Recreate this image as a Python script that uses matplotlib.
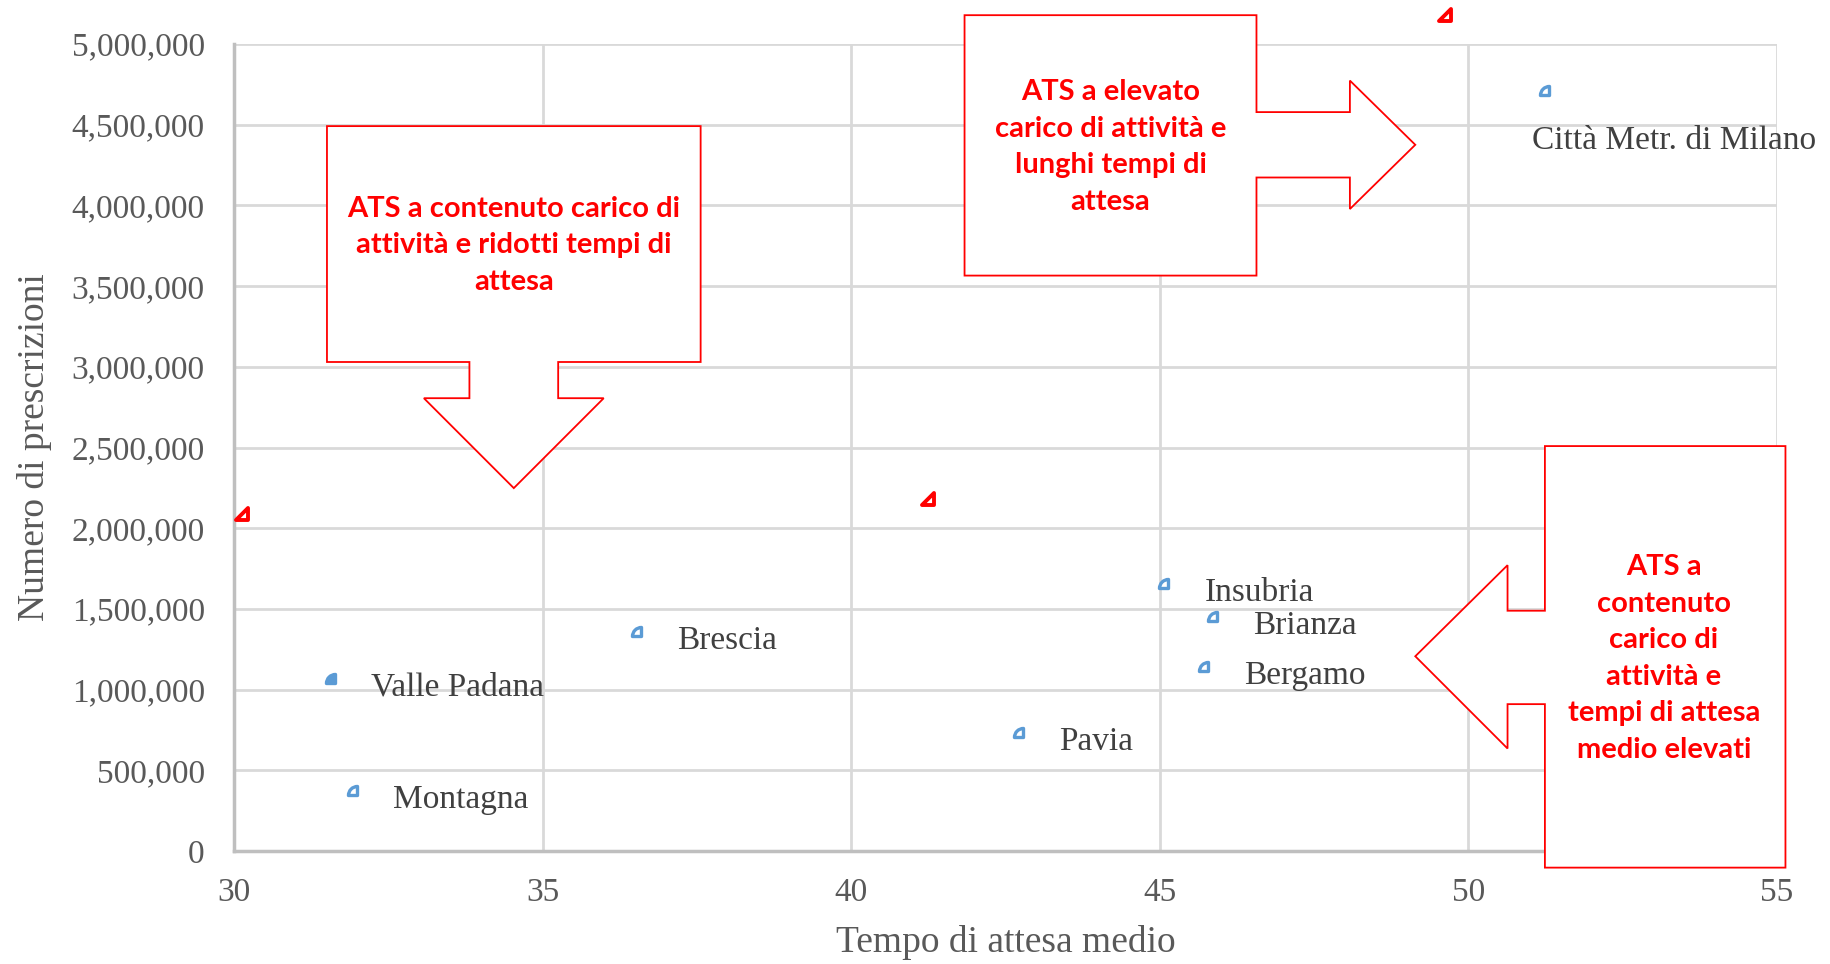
import matplotlib
matplotlib.use("Agg")
import matplotlib.pyplot as plt
from matplotlib.path import Path
from matplotlib.patches import Polygon
from matplotlib.ticker import FuncFormatter, MultipleLocator

# ---- data ----
ats_names = ["Valle Padana", "Montagna", "Brescia", "Pavia", "Insubria",
             "Brianza", "Bergamo", "Città Metr. di Milano"]
tempo_attesa = [31.63, 31.99, 36.59, 42.79, 45.14, 45.92, 45.78, 51.31]
prescrizioni = [1042000, 347000, 1331000, 709000, 1628000, 1425000, 1114000, 4682000]

ref_x = [30.13, 41.24, 49.62]
ref_y = [2091000, 2178000, 5180000]

x_ticks = [30, 35, 40, 45, 50, 55]
y_ticks = list(range(0, 5000001, 500000))

callout_texts = [
    "ATS a contenuto carico di\nattività e ridotti tempi di\nattesa",
    "ATS a elevato\ncarico di attività e\nlunghi tempi di\nattesa",
    "ATS a\ncontenuto\ncarico di\nattività e\ntempi di attesa\nmedio elevati",
]

# ---- figure ----
W, H = 1831, 964
fig = plt.figure(figsize=(W / 100, H / 100), dpi=100)
ax = fig.add_axes([234 / W, 1 - 851 / H, (1777 - 234) / W, (851 - 44) / H])

serif = ["Liberation Serif", "DejaVu Serif"]
ax.set_xlim(30, 55)
ax.set_ylim(0, 5000000)
ax.xaxis.set_major_locator(MultipleLocator(5))
ax.set_yticks(y_ticks)
ax.set_xticks(x_ticks)
ax.yaxis.set_major_formatter(FuncFormatter(lambda v, p: f"{int(v):,}"))
ax.grid(True, color="#d9d9d9", lw=2, zorder=0)
ax.set_axisbelow(True)
for s in ["top", "right"]:
    ax.spines[s].set_visible(False)
for s in ["left", "bottom"]:
    ax.spines[s].set_color("#bfbfbf")
    ax.spines[s].set_linewidth(2.5)
ax.tick_params(length=0, labelsize=24, labelcolor="#595959")
ax.tick_params(axis="y", pad=21)
ax.tick_params(axis="x", pad=19)
for lab in ax.get_xticklabels() + ax.get_yticklabels():
    lab.set_family(serif)

ax.set_xlabel("Tempo di attesa medio", fontsize=27, color="#595959", family=serif,
              va="center")
ax.set_ylabel("Numero di prescrizioni", fontsize=27, color="#595959", family=serif,
              va="center")
ax.xaxis.set_label_coords(0.5, -0.114)
ax.yaxis.set_label_coords(-0.129, 0.5)

# markers
wedge = Path.wedge(90, 180)
tri = Path([(-1, -1), (1, -1), (1, 1), (-1, -1)],
           [Path.MOVETO, Path.LINETO, Path.LINETO, Path.CLOSEPOLY])
blue = "#5b9bd5"
for i, (x, y) in enumerate(zip(tempo_attesa, prescrizioni)):
    face = blue if i == 0 else "white"
    ax.plot([x], [y], marker=wedge, ms=13, mfc=face, mec=blue, mew=2.4,
            ls="none", zorder=4, clip_on=False)
ax.plot(ref_x, ref_y, marker=tri, ms=9, mfc="white", mec="red", mew=2.8,
        ls="none", zorder=4, clip_on=False)

# labels
for i, (name, x, y) in enumerate(zip(ats_names, tempo_attesa, prescrizioni)):
    if i == len(ats_names) - 1:
        off = (-12.6, -33)
    else:
        off = (26, -3.4)
    ax.annotate(name, (x, y), xytext=off, textcoords="offset points",
                ha="left", va="center", fontsize=24, color="#404040",
                family=serif, zorder=5)

# ---- callouts (figure pixel coords of the reference) ----
S = 1831 / 1568


def P(px, py):
    return (px * S / W, 1 - py * S / H)


shapes = [
    [(280, 108), (600, 108), (600, 310), (478, 310), (478, 341), (517, 341),
     (440, 418), (363, 341), (402, 341), (402, 310), (280, 310)],
    [(826, 13), (1076, 13), (1076, 96), (1156, 96), (1156, 69), (1212, 124),
     (1156, 179), (1156, 152), (1076, 152), (1076, 236), (826, 236)],
    [(1323, 382), (1529, 382), (1529, 743), (1323, 743), (1323, 603),
     (1291, 603), (1291, 641), (1212, 562), (1291, 484), (1291, 523),
     (1323, 523)],
]
text_pos = [(440, 210), (951, 126), (1425, 564)]

for shp, txt, tp in zip(shapes, callout_texts, text_pos):
    poly = Polygon([P(*q) for q in shp], closed=True, transform=fig.transFigure,
                   facecolor="white", edgecolor="red", lw=1.3, zorder=10)
    fig.patches.append(poly)
    fig.text(*P(*tp), txt, ha="center", va="center", color="red",
             fontsize=21, fontweight="bold", family=["Lato", "DejaVu Sans"],
             linespacing=1.5, zorder=11)

fig.savefig("out.png", dpi=100, facecolor="white")
